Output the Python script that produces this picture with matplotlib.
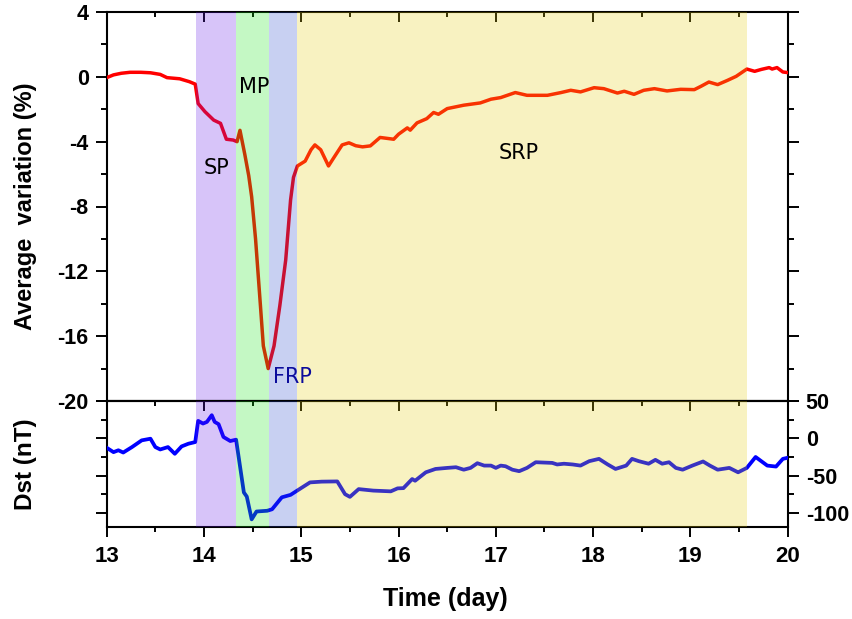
import matplotlib
matplotlib.use("Agg")
import matplotlib.pyplot as plt
from matplotlib.ticker import MultipleLocator, FixedLocator

plt.rcParams["axes.unicode_minus"] = False

# ---------------- data ----------------
t_var = [13.00, 13.07, 13.15, 13.24, 13.35, 13.45, 13.55, 13.62, 13.75, 13.85, 13.91,
         13.94, 14.01, 14.10, 14.17, 14.23, 14.30, 14.34, 14.37, 14.42, 14.46, 14.49,
         14.53, 14.58, 14.61, 14.66, 14.72, 14.78, 14.84, 14.89, 14.92, 14.96, 15.04,
         15.10, 15.14, 15.20, 15.28, 15.33, 15.42, 15.49, 15.56, 15.63, 15.71, 15.81,
         15.95, 16.00, 16.09, 16.12, 16.19, 16.29, 16.36, 16.41, 16.50, 16.67, 16.84,
         16.95, 17.05, 17.20, 17.32, 17.53, 17.67, 17.77, 17.87, 18.01, 18.11, 18.25,
         18.32, 18.42, 18.52, 18.63, 18.76, 18.90, 19.04, 19.11, 19.19, 19.28, 19.38,
         19.47, 19.58, 19.66, 19.73, 19.81, 19.84, 19.89, 19.95, 20.00]
avg_var = [-0.05, 0.12, 0.22, 0.28, 0.28, 0.25, 0.15, -0.05, -0.12, -0.3, -0.45,
           -1.65, -2.15, -2.67, -2.87, -3.85, -3.9, -4.0, -3.3, -4.8, -6.1, -7.4,
           -10.0, -14.1, -16.6, -18.0, -16.6, -14.1, -11.3, -7.6, -6.2, -5.5, -5.2,
           -4.5, -4.2, -4.5, -5.5, -5.03, -4.2, -4.07, -4.25, -4.32, -4.26, -3.74,
           -3.85, -3.54, -3.15, -3.29, -2.84, -2.58, -2.2, -2.31, -1.96, -1.75, -1.61,
           -1.38, -1.28, -0.97, -1.14, -1.14, -0.97, -0.83, -0.93, -0.67, -0.73, -1.0,
           -0.89, -1.08, -0.83, -0.73, -0.87, -0.77, -0.79, -0.58, -0.32, -0.48, -0.22,
           0.03, 0.48, 0.34, 0.46, 0.57, 0.48, 0.57, 0.30, 0.26]

t_dst = [13.00, 13.07, 13.12, 13.17, 13.26, 13.36, 13.45, 13.50, 13.55, 13.63, 13.70,
         13.77, 13.84, 13.91, 13.94, 13.99, 14.03, 14.08, 14.11, 14.15, 14.20, 14.27,
         14.33, 14.41, 14.44, 14.49, 14.54, 14.65, 14.70, 14.80, 14.89, 14.97, 15.09,
         15.21, 15.37, 15.45, 15.50, 15.59, 15.74, 15.92, 15.99, 16.05, 16.14, 16.17,
         16.28, 16.38, 16.50, 16.59, 16.67, 16.74, 16.81, 16.88, 16.95, 17.00, 17.05,
         17.10, 17.17, 17.24, 17.32, 17.41, 17.58, 17.63, 17.70, 17.79, 17.87, 17.96,
         18.06, 18.15, 18.23, 18.34, 18.40, 18.47, 18.57, 18.64, 18.71, 18.78, 18.85,
         18.92, 19.02, 19.13, 19.20, 19.28, 19.40, 19.49, 19.58, 19.67, 19.79, 19.88,
         19.95, 20.00]
dst = [-12.6, -18.5, -16, -19, -11.7, -2.7, -0.5, -11.7, -14.9, -11.7, -20.7,
       -10.8, -7.2, -5, 23.4, 19.8, 22, 31, 22, 19, 1.8, -3.6,
       -1.8, -72.5, -78, -108.5, -98, -97, -95, -79, -75.7, -69, -59,
       -58, -57.7, -74.8, -78.4, -68, -70, -71, -67, -66.7, -54.5, -56.8,
       -45.5, -41, -39.6, -38.7, -42, -39.6, -33.3, -36.5, -36.5, -39.6, -36.5,
       -37.4, -42, -44, -39.6, -32, -32.9, -35, -34, -35, -36.5, -30.6,
       -27.5, -35, -41, -36.5, -27.5, -30.6, -34, -28.8, -34, -32, -39.6,
       -42, -36.5, -31, -36.5, -42, -39.6, -45.5, -39.6, -25, -36.5, -37.8,
       -27.5, -26]

phase_names = ["SP", "MP", "FRP", "SRP"]
phase_start = [13.917, 14.333, 14.667, 14.958]
phase_end = [14.333, 14.667, 14.958, 19.583]
phase_colors = ["#6317eb", "#17e717", "#2747cf", "#e7cf0b"]
label_x = [14.13, 14.52, 14.91, 17.23]
label_y = [-5.6, -0.6, -18.5, -4.7]
label_colors = ["black", "black", "#0c0c9c", "black"]

# ---------------- figure ----------------
fig = plt.figure(figsize=(8.53, 6.19), dpi=100)
L, R = 106.7 / 853, 787.7 / 853
ax1 = fig.add_axes([L, 1 - 401 / 619, R - L, (401 - 12) / 619])
ax2 = fig.add_axes([L, 1 - 527 / 619, R - L, (527 - 401) / 619], sharex=ax1)

tickfont = dict(family="Liberation Sans", weight="bold")

ax1.plot(t_var, avg_var, color="#ff0000", lw=2.5, zorder=3)
ax2.plot(t_dst, dst, color="#0000ff", lw=2.7, zorder=3)

for ax in (ax1, ax2):
    for s, e, c in zip(phase_start, phase_end, phase_colors):
        ax.axvspan(s, e, color=c, alpha=0.25, lw=0, zorder=5)
    for sp in ax.spines.values():
        sp.set_linewidth(1.5)

for n, x, y, c in zip(phase_names, label_x, label_y, label_colors):
    ax1.text(x, y, n, color=c, fontsize=15, ha="center", va="center",
             family="DejaVu Sans", zorder=10)

# x axis
ax1.set_xlim(13, 20)
ax1.xaxis.set_major_locator(MultipleLocator(1))
ax1.xaxis.set_minor_locator(MultipleLocator(0.5))
ax1.tick_params(axis="x", which="both", bottom=False, top=True, direction="in",
                labelbottom=False, labeltop=False, width=1.4)
ax1.tick_params(axis="x", which="major", length=7)
ax1.tick_params(axis="x", which="minor", length=3.5)

ax2.tick_params(axis="x", which="both", bottom=True, top=False, direction="out",
                labelbottom=True, width=1.4, pad=7, labelsize=16)
ax2.tick_params(axis="x", which="major", length=7)
ax2.tick_params(axis="x", which="minor", length=3.5)
sec = ax2.secondary_xaxis("top")
sec.xaxis.set_major_locator(MultipleLocator(1))
sec.xaxis.set_minor_locator(MultipleLocator(0.5))
sec.tick_params(axis="x", which="both", direction="in", labeltop=False, width=1.4)
sec.tick_params(axis="x", which="major", length=7)
sec.tick_params(axis="x", which="minor", length=3.5)
sec.spines["top"].set_linewidth(1.5)

# y axes
ax1.set_ylim(-20, 4)
ax1.yaxis.set_major_locator(MultipleLocator(4))
ax1.yaxis.set_minor_locator(MultipleLocator(2))
ax1.tick_params(axis="y", which="both", left=True, right=True, direction="out",
                labelleft=True, labelright=False, width=1.4, pad=5, labelsize=15.5)
ax1.tick_params(axis="y", which="major", length=8)
ax1.tick_params(axis="y", which="minor", length=4.5)

ax2.set_ylim(-118.75, 50)
ax2.yaxis.set_major_locator(FixedLocator([-100, -50, 0, 50]))
ax2.yaxis.set_minor_locator(FixedLocator([-75, -25, 25]))
ax2.tick_params(axis="y", which="both", left=True, right=True, direction="out",
                labelleft=False, labelright=True, width=1.4, pad=5, labelsize=15.5)
ax2.tick_params(axis="y", which="major", length=8)
ax2.tick_params(axis="y", which="minor", length=4.5)

for ax in (ax1, ax2):
    for lab in ax.get_xticklabels() + ax.get_yticklabels():
        lab.set_fontfamily("Liberation Sans")
        lab.set_fontweight("bold")

ax1.set_ylabel("Average  variation (%)", fontsize=17, **tickfont)
ax2.set_ylabel("Dst (nT)", fontsize=17.5, **tickfont)
ax1.yaxis.set_label_coords(-0.103, 0.5)
ax2.yaxis.set_label_coords(-0.103, 0.5)
fig.text(445.5 / 853, 1 - 606 / 619, "Time (day)", fontsize=18, ha="center",
         va="baseline", **tickfont)

fig.savefig("out.png", dpi=100)
